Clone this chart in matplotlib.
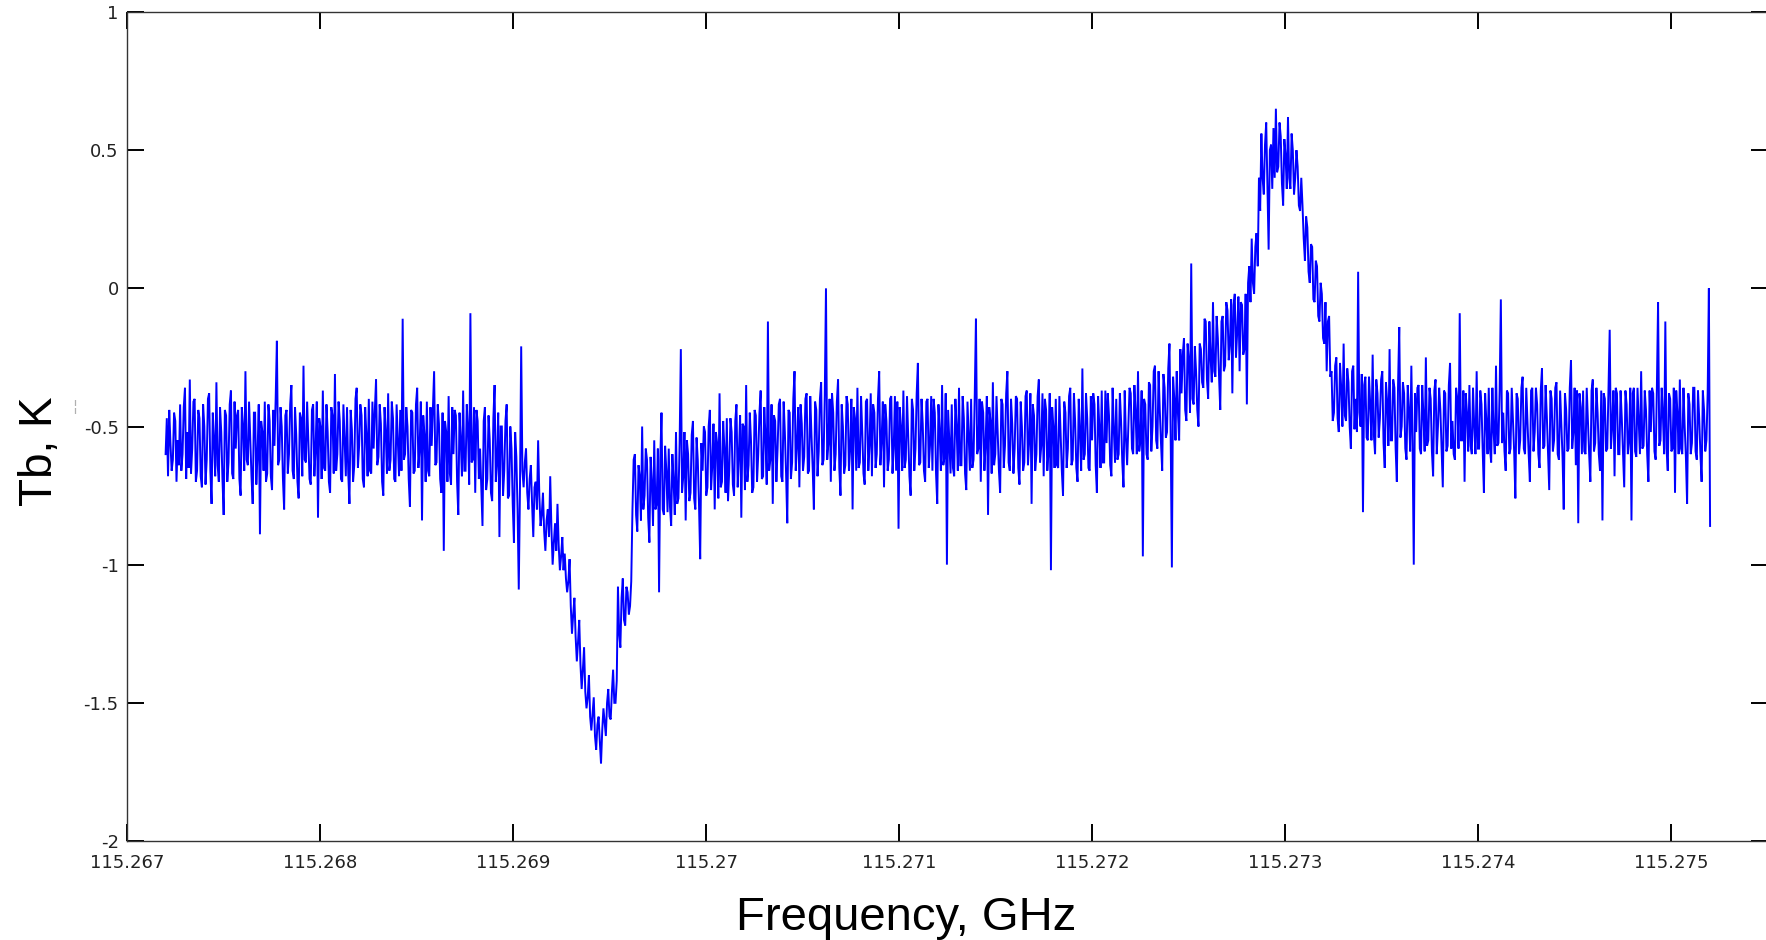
import numpy as np
import matplotlib
matplotlib.use("Agg")
import matplotlib.pyplot as plt

# Spectrum channel grid (GHz)
FREQ_START = 115.2672
FREQ_STOP = 115.2752

# Brightness temperature, K, channel by channel
tb_baseline_low = [
    -0.60, -0.47, -0.68, -0.44, -0.56, -0.66, -0.62, -0.45, -0.48, -0.70,
    -0.55, -0.64, -0.42, -0.66, -0.60, -0.43, -0.36, -0.69, -0.52, -0.65,
    -0.33, -0.67, -0.58, -0.41, -0.40, -0.70, -0.66, -0.44, -0.47, -0.68,
    -0.72, -0.42, -0.50, -0.71, -0.62, -0.40, -0.38, -0.66, -0.78, -0.45,
    -0.55, -0.68, -0.34, -0.64, -0.70, -0.43, -0.52, -0.69, -0.82, -0.44,
    -0.46, -0.70, -0.63, -0.42, -0.37, -0.67, -0.69, -0.41, -0.58, -0.46,
    -0.44, -0.69, -0.75, -0.43, -0.50, -0.66, -0.30, -0.62, -0.64, -0.41,
    -0.54, -0.68, -0.78, -0.45, -0.45, -0.71, -0.60, -0.42, -0.89, -0.48,
    -0.52, -0.66, -0.41, -0.70, -0.67, -0.42, -0.48, -0.68, -0.73, -0.44,
    -0.57, -0.40, -0.19, -0.64, -0.62, -0.43, -0.50, -0.69, -0.80, -0.46,
    -0.44, -0.67, -0.60, -0.42, -0.35, -0.66, -0.69, -0.43, -0.53, -0.70,
    -0.76, -0.45, -0.47, -0.68, -0.28, -0.62, -0.63, -0.41, -0.55, -0.69,
    -0.71, -0.44, -0.42, -0.68, -0.58, -0.41, -0.83, -0.47, -0.50, -0.69,
    -0.37, -0.65, -0.66, -0.42, -0.52, -0.70, -0.74, -0.43, -0.46, -0.67,
    -0.31, -0.66, -0.60, -0.41, -0.48, -0.69, -0.70, -0.42, -0.55, -0.68,
    -0.43, -0.67, -0.78, -0.44, -0.51, -0.70, -0.64, -0.40, -0.36, -0.65,
    -0.57, -0.42, -0.46, -0.69, -0.72, -0.43, -0.53, -0.68, -0.40, -0.66,
    -0.67, -0.41, -0.58, -0.44, -0.33, -0.64, -0.61, -0.42, -0.49, -0.70,
    -0.75, -0.43, -0.52, -0.67, -0.38, -0.66, -0.62, -0.41, -0.47, -0.69,
    -0.70, -0.42, -0.55, -0.68, -0.44, -0.66, -0.11, -0.62, -0.60, -0.43,
    -0.50, -0.69, -0.79, -0.44, -0.45, -0.67, -0.66, -0.42, -0.36, -0.65,
    -0.58, -0.41, -0.84, -0.46, -0.53, -0.70, -0.41, -0.66, -0.68, -0.43,
    -0.57, -0.44, -0.30, -0.64, -0.63, -0.42, -0.49, -0.69, -0.74, -0.45,
    -0.95, -0.48, -0.52, -0.70, -0.39, -0.67, -0.71, -0.43, -0.60, -0.44,
    -0.46, -0.70, -0.82, -0.45, -0.55, -0.68, -0.37, -0.66, -0.66, -0.42,
    -0.51, -0.71, -0.09, -0.63, -0.62, -0.43, -0.74, -0.44, -0.48, -0.69,
    -0.58, -0.72, -0.86, -0.48, -0.43, -0.73, -0.69, -0.46, -0.55, -0.74,
    -0.77, -0.47, -0.35, -0.70, -0.63, -0.45, -0.90, -0.50, -0.50, -0.75,
    -0.66, -0.48, -0.42, -0.76, -0.75, -0.50, -0.58, -0.78, -0.92, -0.52,
    -0.61, -0.80,
]

tb_absorption = [
    -1.09, -0.72, -0.21, -0.66, -0.72, -0.63, -0.58, -0.74, -0.80, -0.69,
    -0.64, -0.78, -0.90, -0.72, -0.70, -0.80, -0.55, -0.75, -0.86, -0.82,
    -0.74, -0.88, -0.95, -0.84, -0.80, -0.90, -0.68, -0.87, -1.00, -0.92,
    -0.85, -0.95, -0.78, -0.93, -1.02, -0.97, -0.90, -1.02, -0.96, -1.05,
    -1.10, -1.06, -0.98, -1.15, -1.25, -1.18, -1.12, -1.26, -1.35, -1.28,
    -1.20, -1.36, -1.45, -1.38, -1.30, -1.46, -1.52, -1.48, -1.40, -1.55,
    -1.60, -1.54, -1.48, -1.62, -1.67, -1.58, -1.55, -1.64, -1.72, -1.60,
    -1.52, -1.57, -1.62, -1.50, -1.45, -1.55, -1.56, -1.46, -1.38, -1.50,
    -1.50, -1.42, -1.08, -1.25, -1.30, -1.12, -1.05, -1.20, -1.22, -1.08,
    -1.10, -1.18, -1.15, -1.06,
]

tb_baseline_mid = [
    -0.80, -0.62, -0.60, -0.82, -0.88, -0.64, -0.68, -0.84, -0.50, -0.80,
    -0.75, -0.58, -0.62, -0.83, -0.92, -0.61, -0.70, -0.86, -0.55, -0.80,
    -0.78, -0.58, -1.10, -0.62, -0.45, -0.80, -0.82, -0.57, -0.66, -0.81,
    -0.58, -0.79, -0.86, -0.60, -0.70, -0.82, -0.52, -0.78, -0.76, -0.56,
    -0.22, -0.74, -0.68, -0.52, -0.84, -0.55, -0.60, -0.77, -0.74, -0.53,
    -0.48, -0.76, -0.80, -0.54, -0.62, -0.78, -0.98, -0.56, -0.66, -0.50,
    -0.52, -0.75, -0.72, -0.50, -0.44, -0.73, -0.64, -0.49, -0.80, -0.52,
    -0.56, -0.76, -0.38, -0.72, -0.70, -0.48, -0.58, -0.74, -0.47, -0.77,
    -0.66, -0.47, -0.52, -0.71, -0.75, -0.48, -0.42, -0.72, -0.60, -0.46,
    -0.83, -0.49, -0.50, -0.73, -0.35, -0.70, -0.64, -0.45, -0.55, -0.74,
    -0.72, -0.44, -0.46, -0.70, -0.60, -0.45, -0.37, -0.69, -0.68, -0.43,
    -0.54, -0.71, -0.12, -0.66, -0.62, -0.42, -0.78, -0.46, -0.48, -0.70,
    -0.58, -0.42, -0.40, -0.68, -0.70, -0.41, -0.52, -0.67, -0.85, -0.44,
    -0.45, -0.69, -0.63, -0.40, -0.30, -0.66, -0.57, -0.43, -0.72, -0.42,
    -0.49, -0.66, -0.61, -0.40, -0.38, -0.67, -0.66, -0.39, -0.53, -0.65,
    -0.80, -0.41, -0.44, -0.68, -0.59, -0.40, -0.34, -0.64, -0.62, -0.39,
    0.00, -0.62, -0.56, -0.40, -0.70, -0.38, -0.45, -0.66, -0.60, -0.41,
    -0.33, -0.65, -0.75, -0.42, -0.50, -0.67, -0.64, -0.39, -0.42, -0.66,
    -0.58, -0.40, -0.80, -0.43, -0.47, -0.66, -0.36, -0.65, -0.63, -0.39,
    -0.52, -0.67, -0.71, -0.41, -0.40, -0.66, -0.57, -0.38, -0.68, -0.42,
    -0.45, -0.65, -0.60, -0.40, -0.30, -0.64, -0.55, -0.41, -0.72, -0.42,
    -0.48, -0.66, -0.62, -0.40, -0.39, -0.67, -0.58, -0.39, -0.66, -0.41,
    -0.87, -0.43, -0.50, -0.66, -0.37, -0.65, -0.62, -0.39, -0.54, -0.68,
    -0.75, -0.40, -0.44, -0.66, -0.58, -0.38, -0.27, -0.64, -0.63, -0.40,
    -0.49, -0.66, -0.70, -0.41, -0.40, -0.65, -0.57, -0.39, -0.66, -0.40,
    -0.45, -0.67, -0.78, -0.42, -0.52, -0.66, -0.35, -0.64, -0.61, -0.38,
    -1.00, -0.44, -0.55, -0.67, -0.42, -0.65, -0.68, -0.40, -0.50, -0.66,
    -0.36, -0.64, -0.64, -0.39, -0.47, -0.67, -0.73, -0.41, -0.53, -0.66,
    -0.40, -0.65, -0.62, -0.39, -0.11, -0.60, -0.58, -0.40, -0.70, -0.41,
    -0.45, -0.66, -0.56, -0.39, -0.82, -0.43, -0.48, -0.67, -0.34, -0.64,
    -0.60, -0.39, -0.52, -0.66, -0.74, -0.40, -0.42, -0.65, -0.57, -0.38,
    -0.30, -0.63, -0.66, -0.40, -0.49, -0.67, -0.58, -0.39, -0.40, -0.65,
    -0.71, -0.41, -0.50, -0.66, -0.63, -0.39, -0.37, -0.64, -0.55, -0.38,
    -0.78, -0.42, -0.46, -0.66, -0.60, -0.39, -0.33, -0.63, -0.57, -0.38,
    -0.68, -0.40, -0.44, -0.66, -0.59, -0.38, -1.02, -0.43, -0.50, -0.65,
    -0.40, -0.64, -0.65, -0.39, -0.53, -0.66, -0.75, -0.41, -0.45, -0.65,
    -0.58, -0.39, -0.36, -0.64, -0.62, -0.38, -0.48, -0.65, -0.70, -0.40,
    -0.52, -0.66, -0.29, -0.62, -0.60, -0.38, -0.47, -0.65, -0.66, -0.39,
    -0.55, -0.38, -0.42, -0.64, -0.74, -0.39, -0.50, -0.65, -0.37, -0.63,
    -0.63, -0.37, -0.56, -0.38, -0.46, -0.64, -0.68, -0.36, -0.51, -0.63,
    -0.40, -0.62, -0.60, -0.38, -0.48, -0.63, -0.72, -0.37, -0.54, -0.64,
]

tb_emission = [
    -0.50, -0.36, -0.38, -0.58, -0.60, -0.35, -0.45, -0.60, -0.30, -0.59,
    -0.55, -0.37, -0.97, -0.40, -0.42, -0.60, -0.62, -0.34, -0.35, -0.59,
    -0.50, -0.30, -0.28, -0.55, -0.58, -0.30, -0.44, -0.56, -0.66, -0.31,
    -0.36, -0.54, -0.52, -0.29, -0.20, -0.53, -1.01, -0.32, -0.40, -0.55,
    -0.30, -0.45, -0.55, -0.22, -0.38, -0.24, -0.18, -0.44, -0.48, -0.20,
    -0.26, -0.45, 0.09, -0.40, -0.42, -0.21, -0.30, -0.44, -0.50, -0.20,
    -0.22, -0.34, -0.36, -0.11, -0.12, -0.33, -0.40, -0.12, -0.25, -0.34,
    -0.05, -0.30, -0.32, -0.10, -0.18, -0.32, -0.44, -0.12, -0.10, -0.30,
    -0.28, -0.05, -0.08, -0.26, -0.20, -0.04, -0.38, -0.06, -0.02, -0.25,
    -0.16, -0.03, -0.30, -0.05, -0.06, -0.24, -0.22, -0.02, -0.42, 0.02,
    0.08, -0.05, 0.18, 0.02, -0.02, 0.15, 0.20, 0.08, 0.40, 0.28,
    0.56, 0.40, 0.34, 0.52, 0.60, 0.38, 0.14, 0.50, 0.52, 0.36,
    0.58, 0.40, 0.65, 0.42, 0.44, 0.60, 0.55, 0.38, 0.30, 0.54,
    0.48, 0.36, 0.62, 0.40, 0.36, 0.56, 0.50, 0.34, 0.40, 0.50,
    0.44, 0.30, 0.28, 0.40, 0.30, 0.18, 0.10, 0.26, 0.22, 0.06,
    0.02, 0.16, 0.15, -0.04, -0.05, 0.10, 0.08, -0.10, -0.12, 0.02,
    -0.02, -0.18, -0.20, -0.05, -0.30, -0.12, -0.10, -0.32,
]

tb_baseline_high = [
    -0.30, -0.48, -0.45, -0.28, -0.25, -0.47, -0.52, -0.27, -0.36, -0.50,
    -0.20, -0.46, -0.48, -0.29, -0.34, -0.50, -0.58, -0.30, -0.28, -0.51,
    -0.40, -0.52, 0.06, -0.45, -0.50, -0.31, -0.81, -0.35, -0.32, -0.54,
    -0.55, -0.32, -0.42, -0.55, -0.24, -0.53, -0.60, -0.33, -0.38, -0.54,
    -0.47, -0.33, -0.30, -0.56, -0.65, -0.34, -0.41, -0.57, -0.22, -0.55,
    -0.55, -0.33, -0.36, -0.58, -0.70, -0.35, -0.14, -0.54, -0.50, -0.34,
    -0.38, -0.58, -0.62, -0.35, -0.44, -0.59, -0.28, -0.56, -1.00, -0.38,
    -0.52, -0.36, -0.35, -0.58, -0.60, -0.35, -0.46, -0.59, -0.25, -0.57,
    -0.55, -0.36, -0.40, -0.59, -0.68, -0.37, -0.33, -0.60, -0.50, -0.36,
    -0.44, -0.58, -0.72, -0.37, -0.38, -0.59, -0.57, -0.35, -0.27, -0.58,
    -0.48, -0.60, -0.62, -0.36, -0.40, -0.58, -0.09, -0.55, -0.55, -0.37,
    -0.70, -0.38, -0.45, -0.59, -0.35, -0.57, -0.60, -0.36, -0.50, -0.60,
    -0.30, -0.58, -0.58, -0.37, -0.42, -0.59, -0.74, -0.38, -0.48, -0.60,
    -0.36, -0.58, -0.63, -0.36, -0.52, -0.60, -0.28, -0.57, -0.56, -0.37,
    -0.04, -0.56, -0.45, -0.59, -0.66, -0.37, -0.38, -0.60, -0.58, -0.36,
    -0.47, -0.59, -0.76, -0.38, -0.40, -0.60, -0.55, -0.36, -0.32, -0.58,
    -0.60, -0.36, -0.48, -0.60, -0.70, -0.37, -0.36, -0.59, -0.52, -0.36,
    -0.42, -0.60, -0.65, -0.37, -0.29, -0.58, -0.57, -0.35, -0.46, -0.60,
    -0.73, -0.37, -0.40, -0.59, -0.55, -0.36, -0.34, -0.60, -0.62, -0.37,
    -0.49, -0.61, -0.80, -0.38, -0.44, -0.59, -0.58, -0.36, -0.26, -0.58,
    -0.52, -0.36, -0.64, -0.37, -0.85, -0.38, -0.43, -0.60, -0.37, -0.59,
    -0.60, -0.36, -0.48, -0.60, -0.70, -0.37, -0.33, -0.59, -0.56, -0.36,
    -0.45, -0.60, -0.66, -0.37, -0.84, -0.38, -0.40, -0.59, -0.58, -0.36,
    -0.15, -0.58, -0.50, -0.37, -0.68, -0.36, -0.38, -0.60, -0.60, -0.37,
    -0.47, -0.59, -0.72, -0.37, -0.42, -0.60, -0.55, -0.36, -0.84, -0.38,
    -0.36, -0.59, -0.61, -0.36, -0.48, -0.60, -0.30, -0.58, -0.57, -0.37,
    -0.44, -0.60, -0.70, -0.37, -0.52, -0.36, -0.38, -0.59, -0.62, -0.36,
    -0.05, -0.57, -0.55, -0.36, -0.46, -0.60, -0.12, -0.58, -0.66, -0.38,
    -0.40, -0.59, -0.58, -0.36, -0.74, -0.37, -0.45, -0.60, -0.33, -0.58,
    -0.60, -0.36, -0.50, -0.61, -0.78, -0.38, -0.42, -0.60, -0.56, -0.36,
    -0.36, -0.59, -0.62, -0.37, -0.47, -0.60, -0.70, -0.37, -0.44, -0.59,
    -0.55, -0.38, 0.00, -0.86,
]

x_ticks = [115.267, 115.268, 115.269, 115.270, 115.271,
           115.272, 115.273, 115.274, 115.275]
x_tick_labels = ["115.267", "115.268", "115.269", "115.27", "115.271",
                 "115.272", "115.273", "115.274", "115.275"]
y_ticks = [1.0, 0.5, 0.0, -0.5, -1.0, -1.5, -2.0]
y_tick_labels = ["1", "0.5", "0", "-0.5", "-1", "-1.5", "-2"]

tb = np.array(tb_baseline_low + tb_absorption + tb_baseline_mid
              + tb_emission + tb_baseline_high)
freq = np.linspace(FREQ_START, FREQ_STOP, len(tb))

W, H = 1766, 940
fig = plt.figure(figsize=(W / 100, H / 100), dpi=100)
ax = fig.add_axes([127 / W, (H - 841) / H, 1641 / W, 829 / H])

ax.plot(freq, tb, color="#0000ff", linewidth=1.4, antialiased=True,
        solid_joinstyle="miter")

ax.set_xlim(115.267, 115.2755)
ax.set_ylim(-2, 1)
ax.set_xticks(x_ticks)
ax.set_xticklabels(x_tick_labels)
ax.set_yticks(y_ticks)
ax.set_yticklabels(y_tick_labels)

ax.tick_params(direction="in", length=12, width=1.4, color="black",
               top=True, right=True, labelsize=13, labelcolor="#222222")
ax.tick_params(axis="x", pad=9)
ax.tick_params(axis="y", pad=6)
for lab in ax.get_xticklabels() + ax.get_yticklabels():
    lab.set_family("DejaVu Sans")
for sp in ax.spines.values():
    sp.set_color("#333333")
    sp.set_linewidth(1.0)

fig.text(906 / W, 10 / H, "Frequency, GHz", ha="center", va="baseline",
         fontsize=34, family="Liberation Sans", color="black")
fig.text(52 / W, (H - 451) / H, "Tb, K", ha="center", va="baseline",
         rotation=90, rotation_mode="anchor", fontsize=33,
         family="Liberation Sans", color="black")
fig.text(74.5 / W, (H - 407) / H, "\u00a6", ha="center", va="center",
         fontsize=11, color="#b0b0b0", family="DejaVu Sans")

fig.savefig("out.png", dpi=100, facecolor="white")
